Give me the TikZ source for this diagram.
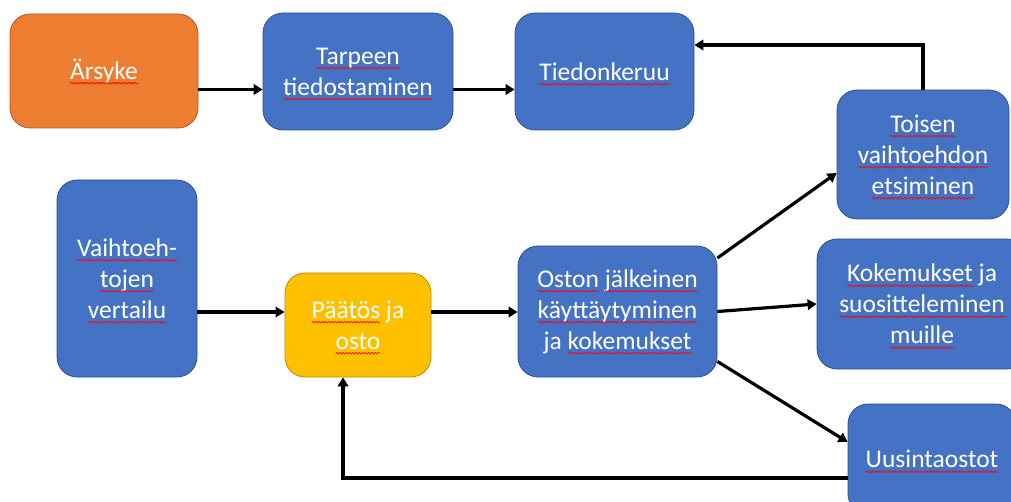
\documentclass[tikz,border=0pt]{standalone}
\usepackage{fontspec}
\setmainfont{Carlito}
\usepackage{xcolor}
\usetikzlibrary{positioning,arrows.meta,decorations.pathmorphing}
\definecolor{ofblue}{HTML}{4472C4}
\definecolor{ofblueline}{HTML}{2F528F}
\definecolor{oforange}{HTML}{ED7D31}
\definecolor{oforangeline}{HTML}{AE5A21}
\definecolor{ofyellow}{HTML}{FFC000}
\definecolor{ofyellowline}{HTML}{BC8C00}
\newcommand\wavy[1]{\tikz[baseline=(w.base), sharp corners]{%
    \node[inner sep=0pt, outer sep=0pt, minimum width=0pt, minimum height=0pt,
      draw=none, fill=none, text=white, anchor=base] (w) {#1};
    \draw[overlay, red, line width=0.6pt, decorate,
      decoration={snake, amplitude=0.9pt, segment length=3.2pt}]
      ([yshift=-4pt]w.base west) -- ([yshift=-4pt]w.base east);}}

\begin{document}
\begin{tikzpicture}[x=1pt, y=-1pt,
      stage/.style={rectangle, draw=ofblueline, line width=0.8pt, fill=ofblue,
        rounded corners=20pt, text=white, align=center,
        font=\fontsize{25.5}{31}\selectfont},
      arr/.style={-{Triangle[length=9pt,width=10.5pt]}, line width=3.2pt, color=black}
    ]
      \fill[white] (0,0) rectangle (1011,502);
      \useasboundingbox (0,0) rectangle (1011,502);
      \clip (0,0) rectangle (1011,502);
      \node[stage, fill=oforange, draw=oforangeline, minimum width=188pt, minimum height=114pt] (arsyke) at (104,71) {\wavy{Ärsyke}};
      \node[stage, minimum width=190pt, minimum height=117pt] (tarpeen) at (358,71.5) {\wavy{Tarpeen}\\\wavy{tiedostaminen}};
      \node[stage, minimum width=179pt, minimum height=117pt] (tiedon) at (604.5,71.5) {\wavy{Tiedonkeruu}};
      \node[stage, minimum width=172pt, minimum height=129pt] (toisen) at (923,154.5) {\wavy{Toisen}\\\wavy{vaihtoehdon}\\\wavy{etsiminen}};
      \node[stage, minimum width=140pt, minimum height=197pt] (vertailu) at (127,278.5) {\wavy{Vaihtoeh-}\\\wavy{tojen}\\\wavy{vertailu}};
      \node[stage, fill=ofyellow, draw=ofyellowline, minimum width=146pt, minimum height=104pt] (paatos) at (358,325) {\wavy{Päätös} ja\\\wavy{osto}};
      \node[stage, minimum width=199pt, minimum height=131pt] (oston) at (617.5,311.5) {\wavy{Oston} \wavy{jälkeinen}\\\wavy{käyttäytyminen}\\ja \wavy{kokemukset}};
      \node[stage, minimum width=210pt, minimum height=130pt] (kokem) at (922,304) {\wavy{Kokemukset} ja\\\wavy{suositteleminen}\\\wavy{muille}};
      \node[stage, minimum width=168pt, minimum height=110pt] (uusinta) at (932,459) {\wavy{Uusintaostot}};
      \draw[arr] ([yshift=-18.5pt]arsyke.east) -- ([yshift=-18.5pt]arsyke.east -| tarpeen.west);
      \draw[arr] ([yshift=-18pt]tarpeen.east) -- ([yshift=-18pt]tarpeen.east -| tiedon.west);
      \draw[arr] (toisen.north) |- ([yshift=26.5pt]tiedon.east);
      \draw[arr] ([yshift=13pt]paatos.west -| vertailu.east) -- ([yshift=13pt]paatos.west);
      \draw[arr] ([yshift=13pt]paatos.east) -- ([yshift=13pt]paatos.east -| oston.west);
      \draw[arr] ([yshift=53.5pt]oston.east) -- ([yshift=-18.5pt]toisen.west);
      \draw[arr] (oston.east) -- (kokem.west);
      \draw[arr] ([yshift=-50pt]oston.east) -- ([yshift=17pt]uusinta.west);
      \draw[arr] ([yshift=-19pt]uusinta.west) -| ([xshift=-15pt]paatos.south);
    \end{tikzpicture}
\end{document}
